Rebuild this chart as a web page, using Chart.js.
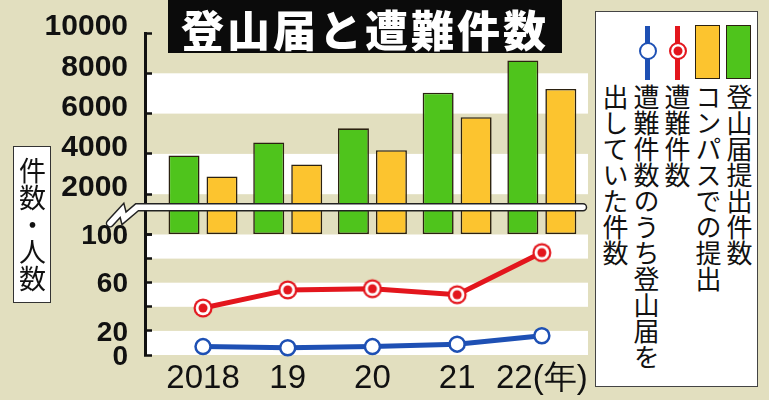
<!DOCTYPE html>
<html lang="ja">
<head>
<meta charset="utf-8">
<title>登山届と遭難件数</title>
<script src="https://cdn.jsdelivr.net/npm/chart.js@4.4.1/dist/chart.umd.min.js"></script>
<style>
  html, body { margin: 0; padding: 0; }
  body {
    width: 769px; height: 400px; position: relative; overflow: hidden;
    background: #e2dfbf;
    font-family: "Noto Sans CJK JP", sans-serif;
  }
  #chart { position: absolute; left: 0; top: 0; }
  .title {
    position: absolute; left: 168px; top: 0; width: 394px; height: 53px;
    background: #0b0b0b; color: #fff;
    font-size: 43px; font-weight: 900; letter-spacing: 3px;
    line-height: 56px; text-align: center; white-space: nowrap;
  }
  .ylabel {
    position: absolute; left: 13px; top: 146px; width: 36px; height: 155px;
    background: #fff; border: 1.5px solid #333;
    writing-mode: vertical-rl; font-size: 27px; line-height: 36px;
    text-align: center; color: #111;
  }
  .legend {
    position: absolute; left: 595px; top: 11px; width: 161px; height: 374px;
    background: #fff; border: 1.5px solid #444;
  }
  .legend .txt {
    position: absolute; right: 2px; top: 72px;
    writing-mode: vertical-rl; font-size: 26px; line-height: 31px; color: #111;
  }
  .sw { position: absolute; top: 13px; width: 23px; height: 52px; border: 1.5px solid #2b2110; }
  .ln { position: absolute; top: 14px; width: 5px; height: 54px; }
  .dot { position: absolute; top: 30px; width: 14px; height: 14px; border-radius: 50%; background: #fff; }
</style>
</head>
<body>
<canvas id="chart" width="769" height="400"></canvas>
<div class="title">登山届と遭難件数</div>
<div class="ylabel">件数・人数</div>
<div class="legend">
  <div class="sw" style="left:130px;background:#4fc41c"></div>
  <div class="sw" style="left:99px;background:#fcc42f"></div>
  <div class="ln" style="left:79px;background:#e3161d"></div>
  <div class="dot" style="left:72.5px;border:2.5px solid #e3161d;box-shadow:inset 0 0 0 2.5px #fff, inset 0 0 0 9px #e3161d"></div>
  <div class="ln" style="left:49px;background:#1e50b4"></div>
  <div class="dot" style="left:42.5px;border:2.5px solid #1e50b4"></div>
  <div class="txt">登山届提出件数<br>コンパスでの提出<br>遭難件数<br>遭難件数のうち登山届を<br>出していた件数</div>
</div>

<script>
// values
const years = ['2018', '19', '20', '21', '22(年)'];
const filedTotal = [3920, 4570, 5270, 7040, 8640];   // 登山届提出件数
const filedCompass = [2880, 3480, 4180, 5820, 7220]; // コンパスでの提出
const accidents = [39, 54, 55, 50, 85];              // 遭難件数
const accidentsFiled = [7, 6, 7, 9, 16];             // うち登山届を出していた件数

const lowerLabeled = [0, 20, 60, 100];
const upperBands = [[6000, 8000], [2000, 4000]];
const lowerBands = [[80, 100], [40, 60], [0, 20]];
const breakValue = 1350;

const GREEN = '#4fc41c';
const YELLOW = '#fcc42f';
const EDGE = '#2b2110';
const RED = '#e3161d';
const BLUE = '#1e50b4';
const INK = '#111';

// red marker: ring + white + dot
function ringDot(color) {
  const c = document.createElement('canvas');
  c.width = c.height = 22;
  const g = c.getContext('2d');
  [[9.5, color], [7.3, '#fff'], [4.5, color]].forEach(([r, f]) => {
    g.fillStyle = f;
    g.beginPath();
    g.arc(11, 11, r, 0, Math.PI * 2);
    g.fill();
  });
  return c;
}

const bandsPlugin = {
  id: 'bands',
  beforeDraw(chart) {
    const { ctx, chartArea: a, scales } = chart;
    ctx.save();
    ctx.fillStyle = '#fff';
    const fill = (scale, bands) => bands.forEach(([lo, hi]) => {
      const t = scale.getPixelForValue(hi);
      const b = scale.getPixelForValue(lo);
      ctx.fillRect(a.left, t, a.right - a.left, b - t);
    });
    fill(scales.y, upperBands);
    fill(scales.y2, lowerBands);
    ctx.restore();
  },
  afterDatasetsDraw(chart) {
    // axis break mark
    const { ctx, chartArea: a, scales } = chart;
    const y = scales.y.getPixelForValue(breakValue);
    const L = a.left;
    ctx.save();
    ctx.beginPath();
    ctx.moveTo(L - 35, y + 16);
    ctx.lineTo(L - 23, y + 3);
    ctx.lineTo(L - 21, y + 11);
    ctx.lineTo(L - 8, y);
    ctx.lineTo(a.right - 5, y);
    ctx.lineCap = 'round';
    ctx.lineJoin = 'miter';
    ctx.strokeStyle = '#222';
    ctx.lineWidth = 8.5;
    ctx.stroke();
    ctx.strokeStyle = '#fff';
    ctx.lineWidth = 5.5;
    ctx.stroke();
    ctx.restore();
  }
};

const xy = arr => years.map((_, i) => ({ x: i, y: arr[i] }));

// fixed axis box, no extra label overflow padding
const fitLeft = s => {
  s.width = 145;
  s.paddingTop = 0;
  s.paddingBottom = 0;
};

new Chart(document.getElementById('chart'), {
  type: 'bar',
  data: {
    datasets: [
      {
        label: '登山届提出件数', data: xy(filedTotal), yAxisID: 'y',
        backgroundColor: GREEN, borderColor: EDGE, borderWidth: 1.6, borderSkipped: false,
        categoryPercentage: 0.897, barPercentage: 0.816
      },
      {
        label: 'コンパスでの提出', data: xy(filedCompass), yAxisID: 'y',
        backgroundColor: YELLOW, borderColor: EDGE, borderWidth: 1.6, borderSkipped: false,
        categoryPercentage: 0.897, barPercentage: 0.816
      },
      {
        type: 'line', label: '遭難件数', data: xy(accidents), yAxisID: 'y2',
        borderColor: RED, borderWidth: 5, tension: 0, clip: false,
        pointStyle: ringDot(RED), pointRadius: 10
      },
      {
        type: 'line', label: '遭難件数のうち登山届を出していた件数', data: xy(accidentsFiled), yAxisID: 'y2',
        borderColor: BLUE, borderWidth: 5, tension: 0, clip: false,
        pointStyle: 'circle', pointRadius: 7.5, pointBorderWidth: 2.5,
        pointBackgroundColor: '#fff', pointBorderColor: BLUE
      }
    ]
  },
  options: {
    responsive: false,
    animation: false,
    layout: { padding: { left: 0, right: 181, top: 33, bottom: 0 } },
    plugins: {
      legend: { display: false },
      tooltip: { enabled: false }
    },
    scales: {
      x: {
        type: 'linear', offset: false, min: -0.685, max: 4.545,
        grid: { display: false }, border: { display: false },
        afterBuildTicks: s => { s.ticks = years.map((_, i) => ({ value: i })); },
        afterFit: s => { s.height = 45; },
        ticks: {
          autoSkip: false, maxRotation: 0, padding: -4, color: INK,
          font: { family: 'Liberation Sans', size: 33 },
          callback: v => years[v]
        }
      },
      y: {
        stack: 'v', stackWeight: 201.5, weight: 1, position: 'left',
        min: 0, max: 10000,
        afterFit: fitLeft,
        border: { color: INK, width: 3 },
        grid: { drawOnChartArea: false, tickLength: -7, tickWidth: 2.5, tickColor: INK },
        ticks: {
          stepSize: 2000, autoSkip: false, padding: 24, labelOffset: -6, color: INK,
          font: { family: 'Liberation Sans', size: 30, weight: 'bold' },
          callback: v => (v === 0 ? '' : String(v))
        }
      },
      y2: {
        stack: 'v', stackWeight: 120.5, weight: 0, position: 'left',
        min: 0, max: 100,
        afterFit: fitLeft,
        border: { color: INK, width: 3 },
        grid: { drawOnChartArea: false, tickLength: -7, tickWidth: 2.5, tickColor: INK },
        ticks: {
          stepSize: 20, autoSkip: false, padding: 24, labelOffset: 2, color: INK,
          font: { family: 'Liberation Sans', size: 28, weight: 'bold' },
          callback: v => (lowerLabeled.includes(v) ? String(v) : '')
        }
      }
    }
  },
  plugins: [bandsPlugin]
});
</script>
</body>
</html>
